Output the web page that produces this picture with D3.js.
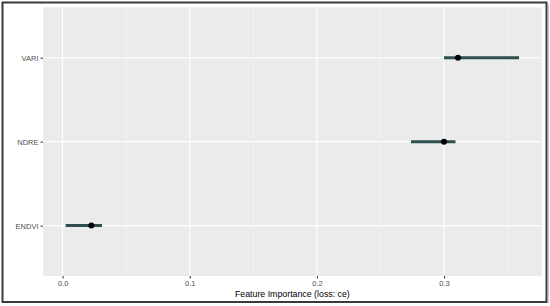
<!DOCTYPE html>
<html>
<head>
<meta charset="utf-8">
<script src="https://cdn.jsdelivr.net/npm/d3@7"></script>
<style>
  body { margin: 0; background: #fff; }
  svg text { font-family: "Liberation Sans", Arial, sans-serif; }
</style>
</head>
<body>
<div id="chart"></div>
<script>
// features, top to bottom
var features = ["VARI", "NDRE", "ENDVI"]
var importance = [0.311, 0.300, 0.0226]
var lower = [0.300, 0.274, 0.0024]
var upper = [0.359, 0.309, 0.031]
var xTicks = [0.0, 0.1, 0.2, 0.3]
var xMinor = [0.05, 0.15, 0.25, 0.35]

var width = 550, height = 306
var panel = { left: 43, right: 541.7, top: 7.3, bottom: 276 }

var svg = d3.select("#chart").append("svg")
    .attr("width", width)
    .attr("height", height)

// outer frame
svg.append("rect")
    .attr("x", 2.5).attr("y", 2.5)
    .attr("width", 544).attr("height", 299.5)
    .attr("fill", "none")
    .attr("stroke", "#3a3a3a")
    .attr("stroke-width", 2)
svg.append("line")
    .attr("x1", 548).attr("x2", 548).attr("y1", 4).attr("y2", 303)
    .attr("stroke", "#9a9a9a").attr("stroke-width", 1)

// ggplot style 5% expansion of data range
var lo = d3.min(lower), hi = d3.max(upper)
var pad = (hi - lo) * 0.05
var x = d3.scaleLinear()
    .domain([lo - pad, hi + pad])
    .range([panel.left, panel.right])

// discrete axis with 0.6 expansion
var y = d3.scalePoint()
    .domain(features)
    .range([panel.top, panel.bottom])
    .padding(0.6)

var data = features.map(function(f, i) {
  return { feature: f, value: importance[i], lo: lower[i], hi: upper[i] }
})

svg.append("rect")
    .attr("x", panel.left).attr("y", panel.top)
    .attr("width", panel.right - panel.left)
    .attr("height", panel.bottom - panel.top)
    .attr("fill", "#ebebeb")

var grid = svg.append("g")
grid.selectAll(".minor").data(xMinor).enter().append("line")
    .attr("x1", x).attr("x2", x)
    .attr("y1", panel.top).attr("y2", panel.bottom)
    .attr("stroke", "#f7f7f7").attr("stroke-width", 0.6)
grid.selectAll(".major").data(xTicks).enter().append("line")
    .attr("x1", x).attr("x2", x)
    .attr("y1", panel.top).attr("y2", panel.bottom)
    .attr("stroke", "#fff").attr("stroke-width", 1.1)
grid.selectAll(".hmajor").data(features).enter().append("line")
    .attr("x1", panel.left).attr("x2", panel.right)
    .attr("y1", y).attr("y2", y)
    .attr("stroke", "#fff").attr("stroke-width", 1.1)

// intervals
svg.selectAll(".bar").data(data).enter().append("line")
    .attr("x1", function(d) { return x(d.lo) })
    .attr("x2", function(d) { return x(d.hi) })
    .attr("y1", function(d) { return y(d.feature) })
    .attr("y2", function(d) { return y(d.feature) })
    .attr("stroke", "#2f4f4f")
    .attr("stroke-width", 3)

svg.selectAll(".pt").data(data).enter().append("circle")
    .attr("cx", function(d) { return x(d.value) })
    .attr("cy", function(d) { return y(d.feature) })
    .attr("r", 3)
    .attr("fill", "#000")

// axes
var xAxis = svg.append("g")
    .attr("transform", "translate(0," + panel.bottom + ")")
    .call(d3.axisBottom(x).tickValues(xTicks).tickFormat(d3.format(".1f"))
      .tickSize(2.5).tickPadding(2))
xAxis.select(".domain").remove()
xAxis.selectAll("line").attr("stroke", "#333")
xAxis.selectAll("text").attr("fill", "#4d4d4d").style("font-size", "7.5px")

var yAxis = svg.append("g")
    .attr("transform", "translate(" + panel.left + ",0)")
    .call(d3.axisLeft(y).tickSize(2.5).tickPadding(2))
yAxis.select(".domain").remove()
yAxis.selectAll("line").attr("stroke", "#333")
yAxis.selectAll("text").attr("fill", "#4d4d4d").style("font-size", "7.5px")

svg.append("text")
    .attr("x", (panel.left + panel.right) / 2)
    .attr("y", 297)
    .attr("text-anchor", "middle")
    .style("font-size", "8.8px")
    .attr("fill", "#000")
    .text("Feature Importance (loss: ce)")
</script>
</body>
</html>
